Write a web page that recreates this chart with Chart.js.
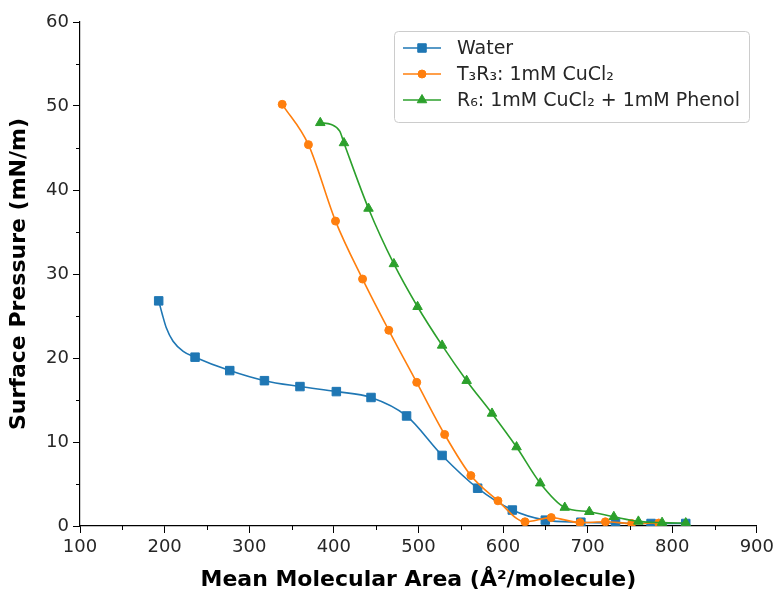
<!DOCTYPE html>
<html>
<head>
<meta charset="utf-8">
<script src="https://cdn.jsdelivr.net/npm/chart.js@4.4.0/dist/chart.umd.min.js"></script>
<style>
  body { margin: 0; background: #fff; }
  #wrap { width: 778px; height: 593px; }
</style>
</head>
<body>
<div id="wrap"><canvas id="isoChart" width="778" height="593"></canvas></div>
<script>
// isotherm samples (markers only sit on some of them)
const waterArea = [193, 197, 202, 210, 222, 236, 277, 318, 360, 403, 444, 486, 528, 570, 611, 650, 692, 733, 775, 816];
const waterPressure = [26.8, 25.3, 23.6, 22.0, 20.8, 20.1, 18.5, 17.3, 16.6, 16.0, 15.3, 13.1, 8.4, 4.5, 1.9, 0.7, 0.45, 0.35, 0.3, 0.3];
const waterMarked = [0, 5, 6, 7, 8, 9, 10, 11, 12, 13, 14, 15, 16, 17, 18, 19];

const t3r3Area = [339, 370, 402, 434, 465, 498, 531, 562, 594, 626, 657, 691, 721, 752, 784];
const t3r3Pressure = [50.2, 45.4, 36.3, 29.4, 23.3, 17.1, 10.9, 6.0, 3.0, 0.5, 1.0, 0.4, 0.5, 0.3, 0.35];
const t3r3Marked = [0, 1, 2, 3, 4, 5, 6, 7, 8, 9, 10, 11, 12, 13, 14];

const r6Area = [384, 397, 407, 412, 441, 471, 499, 528, 557, 587, 616, 644, 673, 702, 731, 760, 788, 816];
const r6Pressure = [48.0, 47.8, 47.0, 45.6, 37.8, 31.2, 26.1, 21.5, 17.3, 13.4, 9.4, 5.1, 2.2, 1.7, 1.1, 0.55, 0.4, 0.35];
const r6Marked = [0, 3, 4, 5, 6, 7, 8, 9, 10, 11, 12, 13, 14, 15, 16, 17];

const seriesNames = ["Water", "T\u2083R\u2083: 1mM CuCl\u2082", "R\u2086: 1mM CuCl\u2082 + 1mM Phenol"];
const xTicks = [100, 200, 300, 400, 500, 600, 700, 800, 900];
const yTicks = [0, 10, 20, 30, 40, 50, 60];

const FONT = "'DejaVu Sans', sans-serif";

const toPoints = (xs, ys) => xs.map((x, i) => ({ x: x, y: ys[i] }));

// short minor ticks like matplotlib
const minorTicks = {
  id: "minorTicks",
  afterDraw(chart) {
    const ctx = chart.ctx;
    const xs = chart.scales.x, ys = chart.scales.y;
    const area = chart.chartArea;
    ctx.save();
    ctx.strokeStyle = "#000";
    ctx.lineWidth = 1;
    ctx.beginPath();
    for (let v = 150; v < 900; v += 100) {
      const px = Math.round(xs.getPixelForValue(v)) + 0.5;
      ctx.moveTo(px, area.bottom);
      ctx.lineTo(px, area.bottom + 4);
    }
    for (let v = 5; v < 60; v += 10) {
      const py = Math.round(ys.getPixelForValue(v)) + 0.5;
      ctx.moveTo(area.left, py);
      ctx.lineTo(area.left - 4, py);
    }
    ctx.stroke();
    ctx.restore();
  }
};

// boxed legend in the upper right, line + marker handles
const boxLegend = {
  id: "boxLegend",
  afterDraw(chart) {
    const ctx = chart.ctx;
    const x0 = 394, y0 = 31, w = 355, h = 91;
    ctx.save();
    ctx.beginPath();
    ctx.roundRect(x0 + 0.5, y0 + 0.5, w, h, 4);
    ctx.fillStyle = "rgba(255,255,255,0.85)";
    ctx.fill();
    ctx.strokeStyle = "#cccccc";
    ctx.lineWidth = 1;
    ctx.stroke();
    chart.data.datasets.forEach((ds, i) => {
      const cy = 48 + i * 26;
      ctx.strokeStyle = ds.borderColor;
      ctx.lineWidth = 1.6;
      ctx.beginPath();
      ctx.moveTo(403, cy);
      ctx.lineTo(441, cy);
      ctx.stroke();
      ctx.fillStyle = ds.pointBackgroundColor;
      ctx.strokeStyle = ds.pointBorderColor;
      ctx.lineWidth = 1;
      Chart.helpers.drawPoint(ctx, { pointStyle: ds.pointStyle, radius: radii[i], borderWidth: 1, rotation: 0 }, 422, cy);
      ctx.fillStyle = "#262626";
      ctx.font = "19px " + FONT;
      ctx.textBaseline = "middle";
      ctx.fillText(seriesNames[i], 457, cy + 1);
    });
    ctx.restore();
  }
};

const colors = ["#1f77b4", "#ff7f0e", "#2ca02c"];
const styles = ["rect", "circle", "triangle"];
const radii = [6, 4, 5.5];
const sets = [
  toPoints(waterArea, waterPressure),
  toPoints(t3r3Area, t3r3Pressure),
  toPoints(r6Area, r6Pressure)
];
const marked = [waterMarked, t3r3Marked, r6Marked];

const chart = new Chart(document.getElementById("isoChart").getContext("2d"), {
  type: "scatter",
  data: {
    datasets: sets.map((pts, i) => ({
      label: seriesNames[i],
      data: pts,
      showLine: true,
      borderColor: colors[i],
      borderWidth: 1.6,
      pointStyle: styles[i],
      pointRadius: (c) => marked[i].includes(c.dataIndex) ? radii[i] : 0,
      pointBackgroundColor: colors[i],
      pointBorderColor: colors[i],
      pointBorderWidth: 1,
      cubicInterpolationMode: "monotone",
      order: 3 - i
    }))
  },
  options: {
    responsive: false,
    animation: false,
    layout: { padding: { top: 22, right: 20, left: 0, bottom: 0 } },
    plugins: {
      legend: { display: false },
      tooltip: { enabled: false }
    },
    scales: {
      x: {
        type: "linear",
        min: 100,
        max: 900,
        afterBuildTicks: (s) => { s.ticks = xTicks.map(v => ({ value: v })); },
        afterFit: (s) => { s.height = 67; },
        ticks: { color: "#262626", font: { family: FONT, size: 18 }, padding: 4 },
        grid: { drawOnChartArea: false, drawTicks: true, tickLength: 7, tickColor: "#000", tickWidth: 1 },
        border: { display: true, color: "#000", width: 1.2 },
        title: {
          display: true,
          text: "Mean Molecular Area (\u00c5\u00b2/molecule)",
          color: "#000",
          font: { family: FONT, size: 22, weight: "bold" },
          padding: { top: 2, bottom: 0 }
        }
      },
      y: {
        type: "linear",
        min: 0,
        max: 60,
        afterBuildTicks: (s) => { s.ticks = yTicks.map(v => ({ value: v })); },
        afterFit: (s) => { s.width = 80; },
        ticks: { color: "#262626", font: { family: FONT, size: 18 }, padding: 4 },
        grid: { drawOnChartArea: false, drawTicks: true, tickLength: 7, tickColor: "#000", tickWidth: 1 },
        border: { display: true, color: "#000", width: 1.2 },
        title: {
          display: true,
          text: "Surface Pressure (mN/m)",
          color: "#000",
          font: { family: FONT, size: 22, weight: "bold" },
          padding: { top: 6, bottom: 2 }
        }
      }
    }
  },
  plugins: [minorTicks, boxLegend]
});
</script>
</body>
</html>
